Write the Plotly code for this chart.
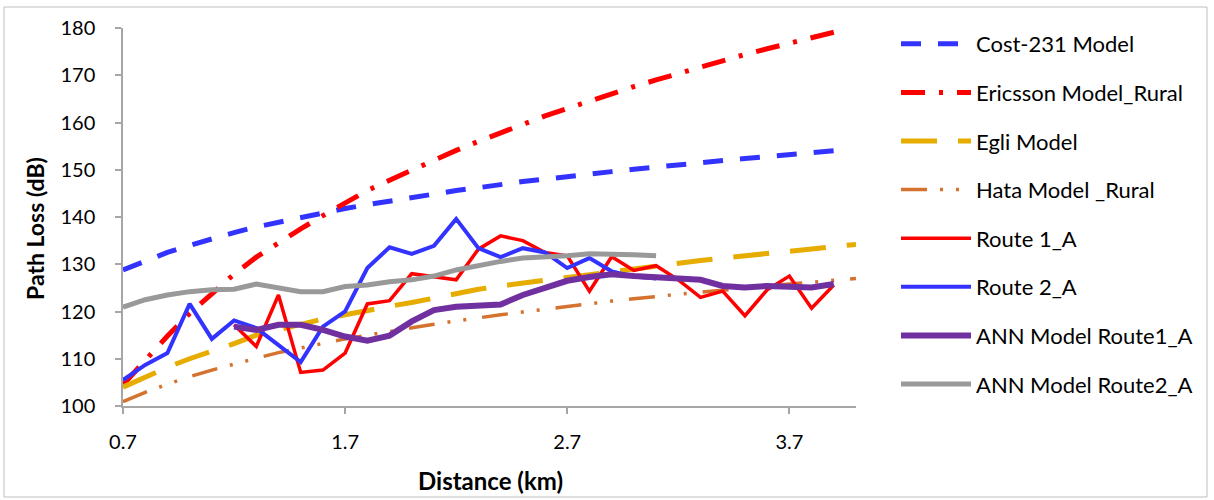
import plotly.graph_objects as go

# ---------------- data ----------------
dist_models = [0.7, 0.8, 0.9, 1.0, 1.1, 1.2, 1.3, 1.4, 1.5, 1.6, 1.7, 1.8, 1.9, 2.0,
               2.1, 2.2, 2.3, 2.4, 2.5, 2.6, 2.7, 2.8, 2.9, 3.0, 3.1, 3.2, 3.3, 3.4,
               3.5, 3.6, 3.7, 3.8, 3.9, 4.0]

cost231 = [128.8, 130.7, 132.5, 134.0, 135.4, 136.7, 137.9, 138.9, 140.0, 140.9, 141.8,
           142.6, 143.4, 144.2, 144.9, 145.6, 146.2, 146.9, 147.5, 148.0, 148.6, 149.1,
           149.6, 150.1, 150.6, 151.1, 151.5, 152.0, 152.4, 152.8, 153.2, 153.6, 154.0]

ericsson = [104.5, 109.8, 114.8, 119.6, 123.9, 127.9, 131.5, 134.6, 137.5, 140.3, 143.0,
            145.6, 147.8, 149.9, 152.1, 154.1, 156.0, 157.9, 159.6, 161.4, 163.0, 164.6,
            166.1, 167.6, 169.0, 170.4, 171.8, 173.2, 174.4, 175.6, 176.8, 178.0, 179.1]

egli = [104.0, 106.2, 108.2, 110.0, 111.5, 113.2, 115.0, 116.2, 117.4, 118.4, 119.3,
        120.3, 121.1, 121.9, 122.9, 123.8, 124.7, 125.4, 126.0, 126.7, 127.4, 128.0,
        128.6, 129.2, 129.8, 130.3, 130.8, 131.3, 131.8, 132.3, 132.8, 133.2, 133.7, 134.2]

hata = [100.9, 102.9, 104.6, 106.2, 107.6, 108.9, 110.1, 111.3, 112.3, 113.3, 114.2,
        115.0, 115.8, 116.6, 117.3, 118.0, 118.7, 119.3, 119.9, 120.5, 121.1, 121.6,
        122.2, 122.7, 123.2, 123.6, 124.1, 124.5, 125.0, 125.4, 125.8, 126.2, 126.6, 127.0]

dist_route1 = [1.2, 1.3, 1.4, 1.5, 1.6, 1.7, 1.8, 1.9, 2.0, 2.1, 2.2, 2.3, 2.4, 2.5,
               2.6, 2.7, 2.8, 2.9, 3.0, 3.1, 3.2, 3.3, 3.4, 3.5, 3.6, 3.7, 3.8, 3.9]
route1 = [117.2, 112.6, 123.5, 107.1, 107.6, 111.2, 121.6, 122.3, 128.0, 127.3, 126.7,
          133.2, 136.0, 135.0, 132.5, 131.8, 124.3, 131.6, 128.7, 129.7, 126.7, 123.0,
          124.3, 119.1, 124.6, 127.5, 120.7, 125.6]
ann_route1 = [116.8, 116.1, 117.2, 117.2, 116.1, 114.7, 113.8, 114.9, 117.9, 120.3, 121.0,
              121.4, 121.5, 123.5, 125.1, 126.5, 127.3, 127.9, 127.5, 127.3, 127.0, 126.7,
              125.4, 125.1, 125.4, 125.1, 125.1, 125.8]

dist_route2 = [0.7, 0.8, 0.9, 1.0, 1.1, 1.2, 1.3, 1.4, 1.5, 1.6, 1.7, 1.8, 1.9, 2.0,
               2.1, 2.2, 2.3, 2.4, 2.5, 2.6, 2.7, 2.8, 2.9, 3.0, 3.1]
route2 = [105.5, 108.7, 111.2, 121.6, 114.2, 118.1, 116.5, 112.9, 109.3, 116.8, 120.0,
          129.2, 133.6, 132.2, 133.9, 139.6, 133.4, 131.5, 133.4, 132.5, 129.2, 131.3,
          128.5, 127.4, 127.0]
ann_route2 = [120.9, 122.5, 123.5, 124.2, 124.6, 124.7, 125.8, 124.9, 124.2, 124.2, 125.3,
              125.6, 126.3, 126.7, 127.5, 128.8, 129.8, 130.6, 131.3, 131.5, 131.8, 132.2,
              132.2, 132.0, 131.8]

x_ticks = [0.7, 1.7, 2.7, 3.7]
y_ticks = [100, 110, 120, 130, 140, 150, 160, 170, 180]

# ---------------- figure ----------------
FONT = "Lato"
fig = go.Figure()

series = [
    ("Cost-231 Model", dist_models[:len(cost231)], cost231, "#3333FF", 5, "20px,17px"),
    ("Ericsson Model_Rural", dist_models[:len(ericsson)], ericsson, "#FF0000", 5, "24px,14px,4px,14px"),
    ("Egli Model", dist_models, egli, "#E6AC00", 5, "36px,21px"),
    ("Hata Model _Rural", dist_models, hata, "#D4722E", 3.5, "26px,13px,3px,13px,3px,16px"),
    ("Route 1_A", dist_route1, route1, "#FF0000", 3.5, "solid"),
    ("Route 2_A", dist_route2, route2, "#3333FF", 4, "solid"),
    ("ANN Model Route1_A", dist_route1, ann_route1, "#7030A0", 6, "solid"),
    ("ANN Model Route2_A", dist_route2, ann_route2, "#999999", 5, "solid"),
]

for i, (name, xs, ys, color, w, dash) in enumerate(series):
    fig.add_trace(go.Scatter(
        x=xs, y=ys, name=name, mode="lines",
        line=dict(color=color, width=w, dash=dash),
        legendgroup=f"g{i}",
    ))

L, R, T, B = 123, 1214 - 856, 28, 500 - 406
pw, ph = 856 - L, 406 - T

def px_x(p):
    return (p - L) / pw

def px_y(p):
    return (406 - p) / ph

fig.update_layout(
    width=1214, height=500,
    margin=dict(l=L, r=R, t=T, b=B, pad=0),
    paper_bgcolor="white", plot_bgcolor="white",
    font=dict(family=FONT, size=20, color="#000000"),
    showlegend=True,
    legend=dict(
        x=px_x(896), y=px_y(23), xanchor="left", yanchor="top",
        font=dict(family=FONT, size=22, color="#000000"),
        itemwidth=70, tracegroupgap=17, traceorder="grouped",
        bgcolor="rgba(0,0,0,0)", maxheight=490,
    ),
    xaxis=dict(
        range=[0.7, 4.0], tickvals=x_ticks, ticktext=[str(v) for v in x_ticks],
        showgrid=False, zeroline=False, showline=True, linecolor="#A6A6A6", linewidth=1.5,
        ticks="outside", ticklen=6, tickcolor="#A6A6A6", tickwidth=1.5,
        ticklabelstandoff=11, tickfont=dict(family=FONT, size=20, color="#000000"),
    ),
    yaxis=dict(
        range=[100, 180], tickvals=y_ticks,
        showgrid=False, zeroline=False, showline=True, linecolor="#A6A6A6", linewidth=1.5,
        ticks="outside", ticklen=6, tickcolor="#A6A6A6", tickwidth=1.5,
        ticklabelstandoff=16, tickfont=dict(family=FONT, size=20, color="#000000"),
    ),
    annotations=[
        dict(text="<b>Distance (km)</b>", xref="paper", yref="paper",
             x=px_x(490), y=px_y(480), xanchor="center", yanchor="middle",
             showarrow=False,
             font=dict(family=FONT, size=24, color="#000000")),
        dict(text="<b>Path Loss (dB)</b>", xref="paper", yref="paper",
             x=px_x(35), y=px_y(229), xanchor="center", yanchor="middle",
             showarrow=False, textangle=-90,
             font=dict(family=FONT, size=23, color="#000000")),
    ],
    shapes=[
        dict(type="rect", xref="paper", yref="paper",
             x0=px_x(4), x1=px_x(1207), y0=px_y(497), y1=px_y(7),
             line=dict(color="#BFBFBF", width=1), fillcolor="rgba(0,0,0,0)", layer="below"),
    ],
)

fig.write_html("out.html")
